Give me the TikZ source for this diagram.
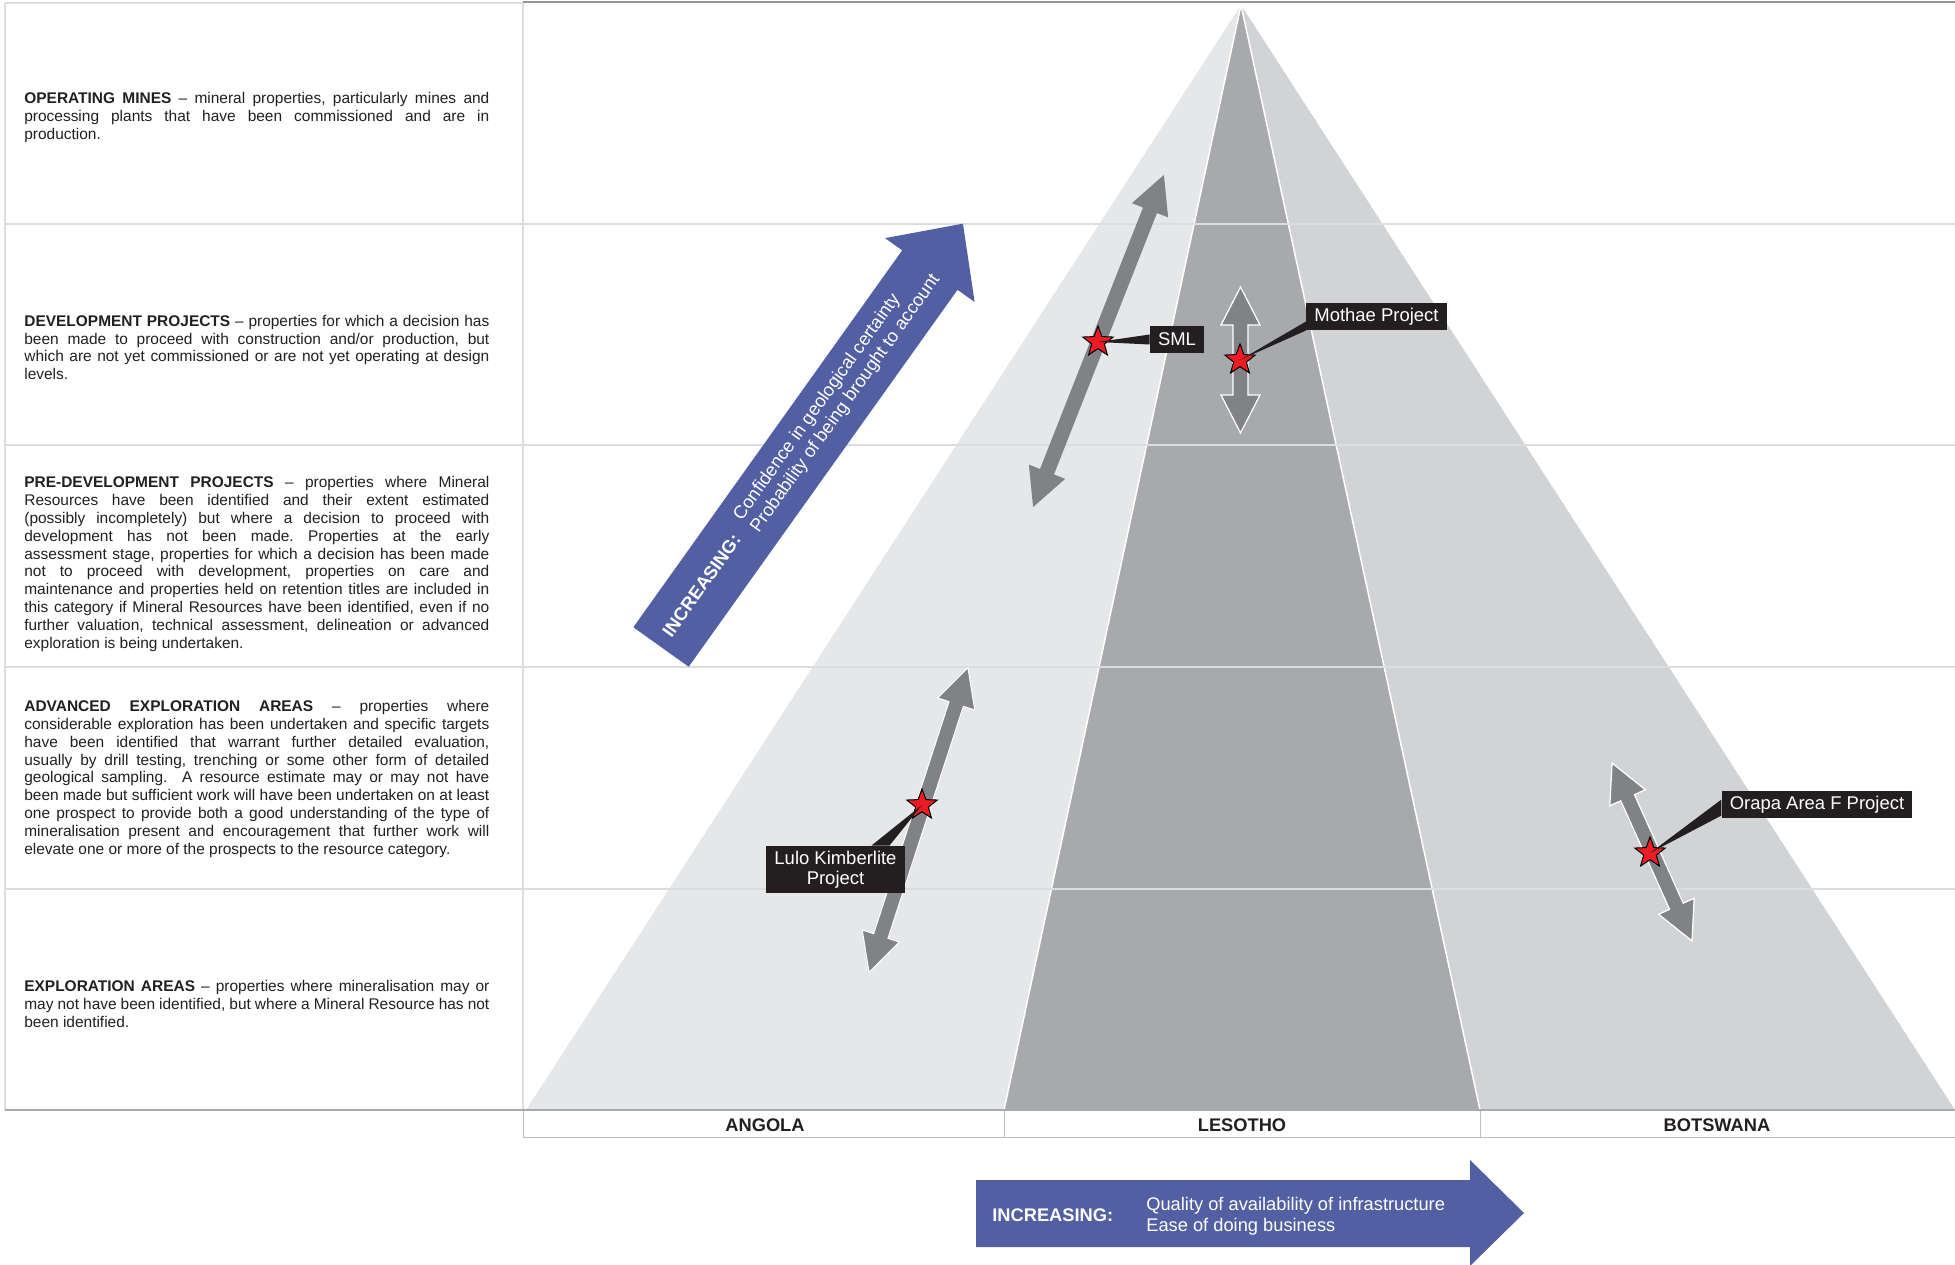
\documentclass[tikz,border=0pt]{standalone}
\usepackage{fontspec}
\setmainfont{Liberation Sans}
\usetikzlibrary{positioning,calc,shapes.geometric}

\definecolor{angolaface}{HTML}{E6E7E8}
\definecolor{lesothoface}{HTML}{A7A9AC}
\definecolor{botswanaface}{HTML}{D1D3D4}
\definecolor{gridgrey}{HTML}{DCDDDE}
\definecolor{rulegrey}{HTML}{A7A9AC}
\definecolor{cellgrey}{HTML}{BCBEC0}
\definecolor{topgrey}{HTML}{939598}
\definecolor{arrowgrey}{HTML}{808285}
\definecolor{blueband}{HTML}{525FA3}
\definecolor{tagblack}{HTML}{231F20}
\definecolor{starred}{HTML}{ED1C24}
\definecolor{ink}{HTML}{231F20}

\newcommand{\twoway}[4][]{%
  \begin{scope}[shift={#2}, rotate=#3]
    \fill[dblarr,#1] (-#4/2,0) -- ++(38,-19.5) -- ++(0,12) -- (#4/2-38,-7.5) -- ++(0,-12)
      -- (#4/2,0) -- ++(-38,19.5) -- ++(0,-12) -- (-#4/2+38,7.5) -- ++(0,12) -- cycle;
  \end{scope}}
\newcommand{\rising}[3]{%
  \makebox[#1][l]{\bfseries INCREASING:}%
  \begin{tabular}[c]{@{}l@{}}#2\\#3\end{tabular}}

\begin{document}
\frenchspacing
\begin{tikzpicture}[
    x=0.2mm, y=-0.2mm,
    rowline/.style={draw=gridgrey, line width=0.3mm},
    cellline/.style={draw=cellgrey, line width=0.2mm},
    desc/.style={anchor=west, inner sep=0, text width=93mm, align=justify, text=ink,
      font=\fontsize{8.8}{10.15}\selectfont},
    country/.style={font=\fontsize{10.4}{12}\selectfont\bfseries, text=ink},
    tag/.style={fill=tagblack, text=white, inner xsep=1.6mm, inner ysep=1mm, minimum height=5.4mm,
      align=center, font=\fontsize{10.5}{11.4}\selectfont},
    site/.style={star, star points=5, star point ratio=2.4, minimum size=6.4mm, inner sep=0,
      fill=starred, draw=black, line width=0.2mm},
    dblarr/.style={fill=arrowgrey},
    inc/.style={inner sep=0, anchor=base west, text=white, font=\fontsize{10.4}{11.9}\selectfont}
]
\useasboundingbox (0,0) rectangle (1955,1265);
\clip (0,0) rectangle (1955,1265);

\coordinate (apex) at (1241,5);
\coordinate (bl) at (526,1110);
\coordinate (bm1) at (1004,1110);
\coordinate (bm2) at (1480,1110);
\coordinate (br) at (1955,1110);
\fill[angolaface] (apex) -- (bl) -- (bm1) -- cycle;
\fill[botswanaface] (apex) -- (bm2) -- (br) -- cycle;
\fill[lesothoface] (apex) -- (bm1) -- (bm2) -- cycle;
\draw[white, line width=0.3mm] (bm1) -- (apex) -- (bm2);

\foreach \y in {224,445,667,889}
  \draw[rowline] (5,\y) -- (1955,\y);
\draw[rowline] (5,3) -- (523,3);
\draw[topgrey, line width=0.4mm] (523,2) -- (1955,2);
\draw[rowline] (5,3) -- (5,1110);
\draw[rowline] (523,3) -- (523,1110);
\draw[cellline] (523,1110) -- (523,1137) -- (1955,1137);
\draw[cellline] (bm1) -- (1004,1137);
\draw[cellline] (bm2) -- (1480,1137);
\draw[rulegrey, line width=0.5mm] (5,1110) -- (1955,1110);

\node[desc] (op) at (24,117.5) {\textbf{OPERATING MINES} -- mineral properties, particularly mines and\linebreak
  processing plants that have been commissioned and are in\linebreak production.};
\node[desc] (dev) at (24,347.5) {\textbf{DEVELOPMENT PROJECTS} -- properties for which a decision has\linebreak
  been made to proceed with construction and/or production, but\linebreak
  which are not yet commissioned or are not yet operating at design\linebreak levels.};
\node[desc] (pre) at (24,564) {\textbf{PRE-DEVELOPMENT PROJECTS} -- properties where Mineral\linebreak
  Resources have been identified and their extent estimated\linebreak
  (possibly incompletely) but where a decision to proceed with\linebreak
  development has not been made. Properties at the early\linebreak
  assessment stage, properties for which a decision has been made\linebreak
  not to proceed with development, properties on care and\linebreak
  maintenance and properties held on retention titles are included in\linebreak
  this category if Mineral Resources have been identified, even if no\linebreak
  further valuation, technical assessment, delineation or advanced\linebreak
  exploration is being undertaken.};
\node[desc] (adv) at (24,779) {\textbf{ADVANCED EXPLORATION AREAS} -- properties where\linebreak
  considerable exploration has been undertaken and specific targets\linebreak
  have been identified that warrant further detailed evaluation,\linebreak
  usually by drill testing, trenching or some other form of detailed\linebreak
  geological sampling.\ \ A resource estimate may or may not have\linebreak
  been made but sufficient work will have been undertaken on at least\linebreak
  one prospect to provide both a good understanding of the type of\linebreak
  mineralisation present and encouragement that further work will\linebreak
  elevate one or more of the prospects to the resource category.};
\node[desc] (expl) at (24,1004) {\textbf{EXPLORATION AREAS} -- properties where mineralisation may or\linebreak
  may not have been identified, but where a Mineral Resource has not\linebreak been identified.};

\node[country] (angola) at (765,1125.5) {ANGOLA};
\node[country] (lesotho) at (1242,1125.5) {LESOTHO};
\node[country] (botswana) at (1717,1125.5) {BOTSWANA};

\begin{scope}[shift={(661,647)}, rotate=54.5]
  \fill[blueband] (0,-34) -- (463,-34) -- (463,-55) -- (520,0) -- (463,55) -- (463,34) -- (0,34) -- cycle;
  \node[inc, transform shape] (certainty) at (13,3.5)
    {\rising{27.2mm}{Confidence in geological certainty}{Probability of being brought to account}};
\end{scope}

\fill[blueband] (976,1180) -- (1470,1180) -- (1470,1160) -- (1524,1213) -- (1470,1266)
  -- (1470,1247) -- (976,1247) -- cycle;
\node[inc] (business) at (992,1221)
  {\rising{30.8mm}{Quality of availability of infrastructure}{Ease of doing business}};

\twoway{(1098.5,341)}{68.5}{357}
\twoway[draw=white, line width=0.25mm]{(1240.5,360)}{90}{146}
\twoway[draw=white, line width=0.2mm]{(918.5,820)}{72}{320}
\twoway[draw=white, line width=0.25mm]{(1652,852)}{114.2}{195}

\node[site] (s-sml) at (1098,342) {};
\node[site] (s-mothae) at (1240,360) {};
\node[site] (s-lulo) at (922,805) {};
\node[site] (s-orapa) at (1650,853) {};

\node[tag] (sml) at (1177,339.5) {SML};
\node[tag] (mothae) at (1376.5,316.5) {Mothae Project};
\node[tag] (lulo) at (835.5,869.5) {Lulo Kimberlite\\Project};
\node[tag] (orapa) at (1817,804.5) {Orapa Area F Project};

\fill[tagblack] (s-sml.center) -- ($(sml.west)+(0,-5)$) -- ($(sml.west)+(0,5)$) -- cycle;
\fill[tagblack] (s-mothae.center) -- ($(mothae.south west)+(0,-9)$) -- (mothae.south west) -- cycle;
\fill[tagblack] (s-lulo.center) -- ($(lulo.north)+(36,0)$) -- ($(lulo.north)+(54,0)$) -- cycle;
\fill[tagblack] (s-orapa.center) -- ($(orapa.west)+(0,-5)$) -- ($(orapa.west)+(0,11)$) -- cycle;
\end{tikzpicture}
\end{document}
